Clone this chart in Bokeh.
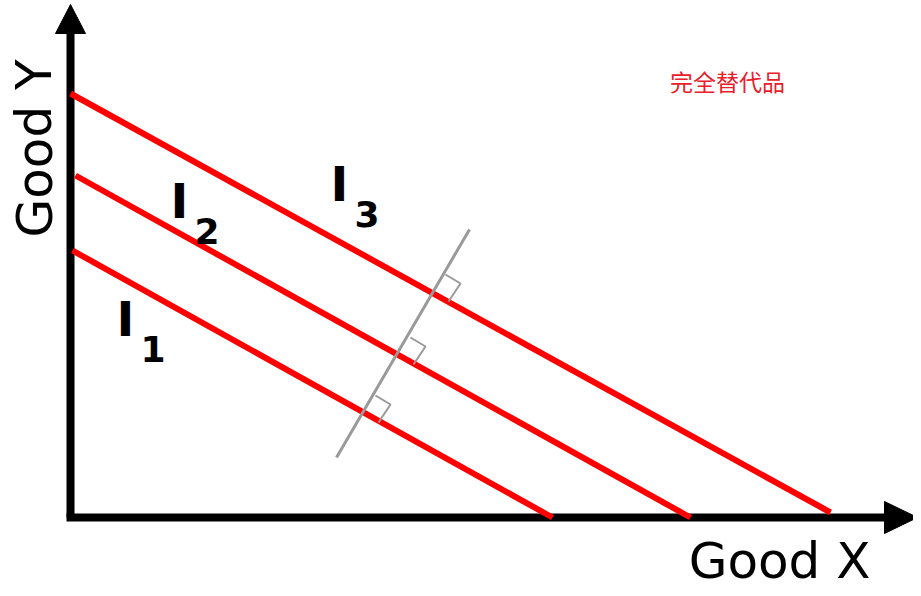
from bokeh.plotting import figure
from bokeh.core.properties import value
from bokeh.embed import file_html
from bokeh.resources import INLINE

H = 596
def fy(v):
    return [H - t for t in v]

# indifference curves (page coordinates of end points)
curve_x0 = [72, 75, 70]
curve_y0 = [250, 175, 93]
curve_x1 = [552, 690, 830]
curve_y1 = [517, 517, 512]
labels = ["1", "2", "3"]
label_x = [116, 170, 330]
label_y = [318, 200, 183]

# perpendicular gray line
perp_x = [336, 469]
perp_y = [457, 229]

p = figure(width=913, height=588, x_range=(0, 913), y_range=(8, 596),
           output_backend="svg", toolbar_location=None, min_border=0)
p.axis.visible = False
p.grid.visible = False
p.outline_line_color = None

# axes
p.line([70, 70], fy([517, 30]), line_width=8, color="black")
p.line([66, 888], fy([517, 517]), line_width=8, color="black")
p.patch([70, 55, 85], fy([4, 33, 33]), color="black")
p.patch([917, 884, 884], fy([517, 501, 533]), color="black")

p.segment(curve_x0, fy(curve_y0), curve_x1, fy(curve_y1), line_width=6, color="red")
p.line(perp_x, fy(perp_y), line_width=3, color="#999999")

# right angle marks
for cx, cy in [(433, 292), (398, 355), (363, 413)]:
    ax, ay = cx + 12, cy - 18
    bx, by = ax + 15, ay + 9
    dx, dy = cx + 15, cy + 9
    p.line([ax, bx, dx], fy([ay, by, dy]), line_width=2, color="#999999")

p.text(label_x, fy(label_y), text=["I"] * 3, text_font=value("DejaVu Sans"),
       text_font_size="48px", text_font_style="bold", text_baseline="middle")
p.text([x + 24 for x in label_x], fy([y + 30 for y in label_y]), text=labels,
       text_font=value("DejaVu Sans"), text_font_size="36px", text_font_style="bold",
       text_baseline="middle")

p.text([727], fy([80]), text=["完全替代品"], text_font=value("Noto Sans CJK SC"),
       text_font_size="23px", text_color="#e8202a", text_align="center", text_baseline="middle")
p.text([870], fy([560]), text=["Good X"], text_font=value("DejaVu Sans"),
       text_font_size="50px", text_align="right", text_baseline="middle")
p.text([34], fy([148]), text=["Good Y"], text_font=value("DejaVu Sans"),
       text_font_size="50px", text_align="center", text_baseline="middle", angle=1.5708)

open("out.html", "w").write(file_html(p, INLINE))
